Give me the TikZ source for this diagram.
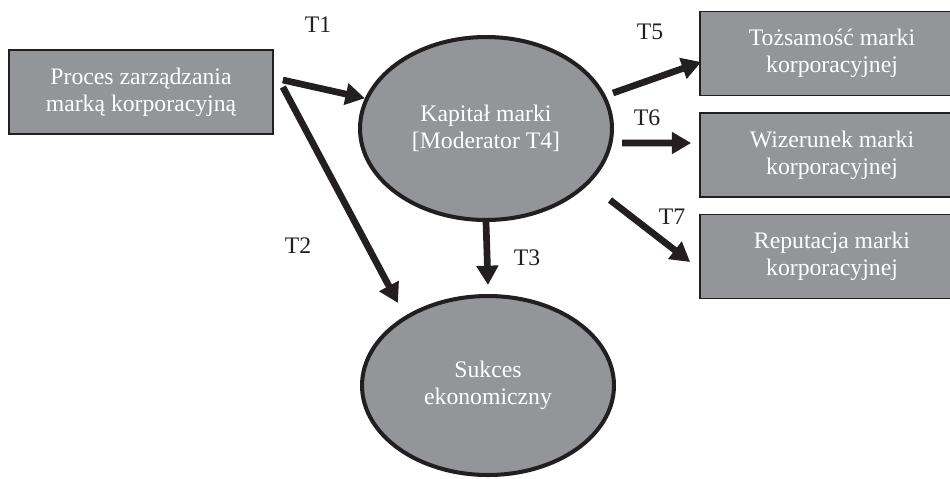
\documentclass[tikz,border=0pt]{standalone}
\usepackage{fontspec}
\setmainfont{Liberation Serif}
\usetikzlibrary{arrows.meta,shapes.geometric}
\definecolor{boxgray}{RGB}{147,149,152}
\definecolor{inkblack}{RGB}{35,31,32}
\begin{document}
\begin{tikzpicture}[x=0.02cm, y=-0.02cm,
  font=\fontsize{13.5}{15.3}\selectfont,
  box/.style={draw=inkblack, line width=1pt, fill=boxgray, text=white, align=center, minimum width=5.28cm, minimum height=1.68cm, inner sep=0pt},
  oval/.style={ellipse, draw=inkblack, line width=2.3pt, fill=boxgray, text=white, align=center, minimum width=5.04cm, minimum height=3.66cm, inner sep=0pt},
  arr/.style={-{Triangle[length=11pt,width=12pt]}, line width=3.8pt, draw=inkblack},
  lbl/.style={text=inkblack, inner sep=0pt}]
\useasboundingbox (0,0) rectangle (950,478);
\node[box] (proces) at (141,92) {Proces zarządzania\\marką korporacyjną};
\node[oval] (kapital) at (486,128.5) {Kapitał marki\\{[Moderator T4]}};
\node[oval, minimum height=3.58cm] (sukces) at (488,385.5) {Sukces\\ekonomiczny};
\node[box] (tozsamosc) at (832,53.5) {Tożsamość marki\\korporacyjnej};
\node[box] (wizerunek) at (832,155) {Wizerunek marki\\korporacyjnej};
\node[box] (reputacja) at (832,256.5) {Reputacja marki\\korporacyjnej};
\draw[arr] ([shift={(9,-12)}]proces.east) -- (kapital.166);
\draw[arr] ([shift={(9,-5)}]proces.east) -- ([shift={(-90,9)}]sukces.north);
\draw[arr] (kapital.south) -- ([shift={(0,-9)}]sukces.north);
\draw[arr] ([shift={(-1,-35.5)}]kapital.east) -- ([shift={(2,8.5)}]tozsamosc.west);
\draw[arr] ([shift={(8,14.5)}]kapital.east) -- ([shift={(-8,-12)}]wizerunek.west);
\draw[arr] ([shift={(-4,71.5)}]kapital.east) -- ([shift={(-9,5.5)}]reputacja.west);
\node[lbl] (t1) at (318,25) {T1};
\node[lbl] (t2) at (298,246) {T2};
\node[lbl] (t3) at (527,258) {T3};
\node[lbl] (t5) at (650,32) {T5};
\node[lbl] (t6) at (647,118) {T6};
\node[lbl] (t7) at (672,217) {T7};
\end{tikzpicture}
\end{document}
